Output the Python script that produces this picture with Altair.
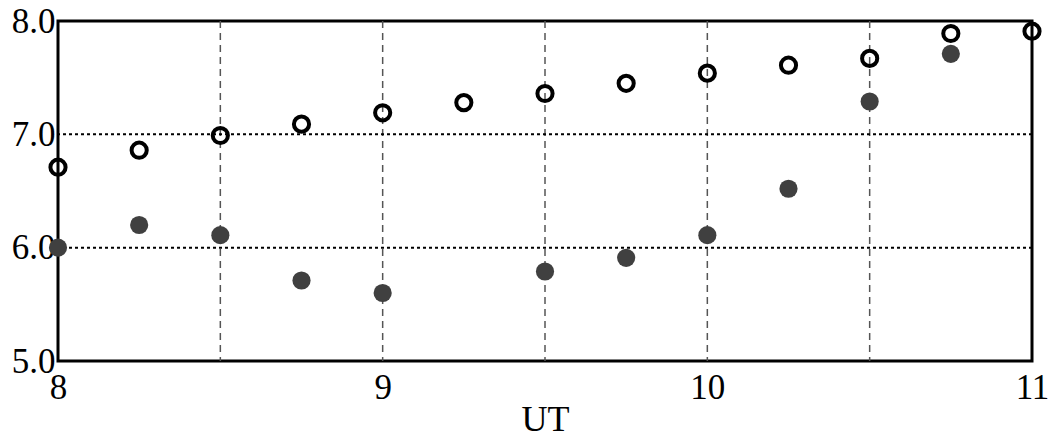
import altair as alt
import pandas as pd

# Observation times (UT, hours)
ut_open = [8.0, 8.25, 8.5, 8.75, 9.0, 9.25, 9.5, 9.75, 10.0, 10.25, 10.5, 10.75, 11.0]
val_open = [6.71, 6.86, 6.99, 7.09, 7.19, 7.28, 7.36, 7.45, 7.54, 7.61, 7.67, 7.89, 7.91]

ut_filled = [8.0, 8.25, 8.5, 8.75, 9.0, 9.5, 9.75, 10.0, 10.25, 10.5, 10.75]
val_filled = [6.0, 6.20, 6.11, 5.71, 5.60, 5.79, 5.91, 6.11, 6.52, 7.29, 7.71]

# Reference lines
vgrid = [8.5, 9.0, 9.5, 10.0, 10.5]
hgrid = [6.0, 7.0]

x_ticks = [8, 9, 10, 11]
y_ticks = [5.0, 6.0, 7.0, 8.0]

FONT = "Liberation Serif, Times New Roman, serif"

open_df = pd.DataFrame({"ut": ut_open, "v": val_open})
filled_df = pd.DataFrame({"ut": ut_filled, "v": val_filled})
vgrid_df = pd.DataFrame({"ut": vgrid})
hgrid_df = pd.DataFrame({"v": hgrid})

xscale = alt.Scale(domain=[8, 11], nice=False, zero=False)
yscale = alt.Scale(domain=[5, 8], nice=False, zero=False)

xaxis = alt.Axis(
    values=x_ticks, title="UT", grid=False, domain=False, ticks=False,
    labelFont=FONT, labelFontSize=35, labelColor="black", labelPadding=9,
    labelFlush=False, labelOverlap=False,
    titleFont=FONT, titleFontSize=36, titleFontWeight="normal",
    titleColor="black", titlePadding=-3,
)
yaxis = alt.Axis(
    values=y_ticks, title=None, grid=False, domain=False, ticks=False,
    format=".1f", labelFont=FONT, labelFontSize=35, labelColor="black",
    labelPadding=3, labelFlush=False, labelOverlap=False,
)

vlines = alt.Chart(vgrid_df).mark_rule(
    color="#555555", strokeWidth=1.5, strokeDash=[7, 5]
).encode(x=alt.X("ut:Q", scale=xscale, axis=xaxis))

hlines = alt.Chart(hgrid_df).mark_rule(
    color="black", strokeWidth=2, strokeDash=[3, 3]
).encode(y=alt.Y("v:Q", scale=yscale, axis=yaxis))

filled_pts = alt.Chart(filled_df).mark_point(
    shape="circle", filled=True, color="#404040", size=330, opacity=1
).encode(
    x=alt.X("ut:Q", scale=xscale, axis=xaxis),
    y=alt.Y("v:Q", scale=yscale, axis=yaxis),
)

open_pts = alt.Chart(open_df).mark_point(
    shape="circle", filled=False, color="black", size=230, strokeWidth=4, opacity=1
).encode(
    x=alt.X("ut:Q", scale=xscale, axis=xaxis),
    y=alt.Y("v:Q", scale=yscale, axis=yaxis),
)

chart = (
    alt.layer(vlines, hlines, filled_pts, open_pts)
    .properties(
        width=974,
        height=340,
        autosize=alt.AutoSizeParams(type="none"),
        padding={"left": 58, "top": 21, "right": 24, "bottom": 78},
        background="white",
    )
    .configure_view(stroke="black", strokeWidth=3)
)

chart.save("out.html", embed_options={"renderer": "svg", "actions": False})
